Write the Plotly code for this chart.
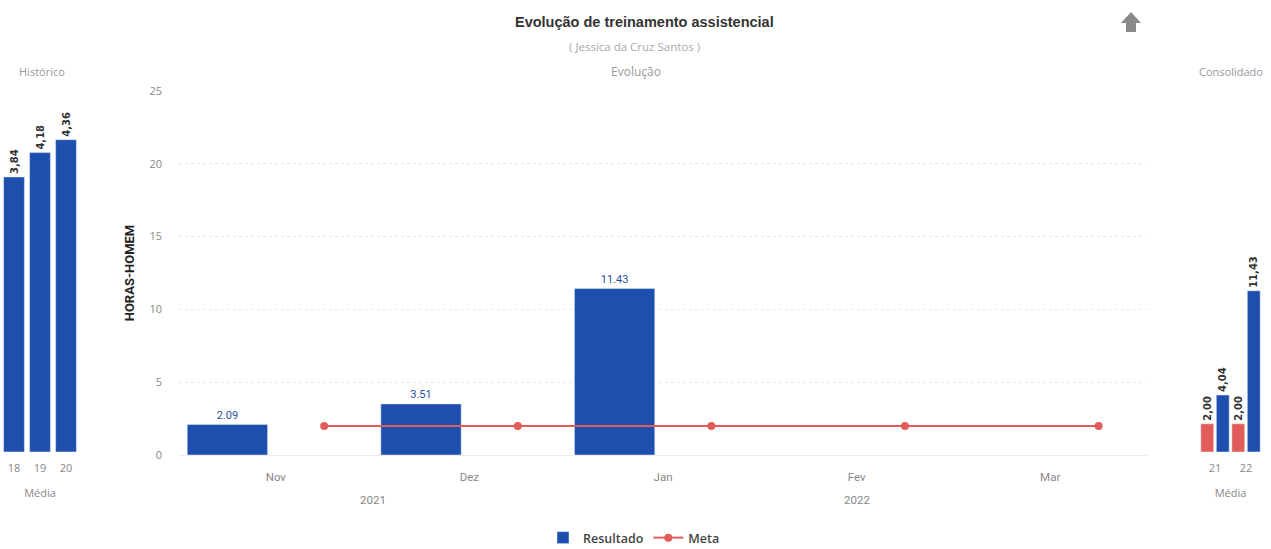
import plotly.graph_objects as go

# ---- data ----
hist_cats = ["18", "19", "20"]
hist_vals = [3.84, 4.18, 4.36]

years = ["2021", "2021", "2022", "2022", "2022"]
months = ["Nov", "Dez", "Jan", "Fev", "Mar"]
resultado = [2.09, 3.51, 11.43, None, None]
meta = [2.0, 2.0, 2.0, 2.0, 2.0]

cons_cats = ["21", "22"]
cons_meta = [2.00, 2.00]
cons_res = [4.04, 11.43]

BLUE = "#1f4fae"
RED = "#e25c5a"
FONT = "Open Sans"
W, H = 1271, 549

def br(v):
    return f"{v:.2f}".replace(".", ",")

vtext = dict(size=10, color="#333", family="DejaVu Sans", weight="bold")

fig = go.Figure()

# Histórico
fig.add_trace(go.Bar(
    x=hist_cats, y=hist_vals, xaxis="x", yaxis="y", marker_color=BLUE,
    width=0.8, text=[br(v) for v in hist_vals], textposition="outside",
    textangle=-90, textfont=vtext, constraintext="none",
    cliponaxis=False, showlegend=False, hoverinfo="skip"))

# Evolução
fig.add_trace(go.Bar(
    x=months, y=resultado, xaxis="x2", yaxis="y2", name="Resultado",
    marker_color=BLUE, offsetgroup="r", alignmentgroup="a",
    text=[f"{v:.2f}" if v is not None else "" for v in resultado],
    textposition="outside", textangle=0, constraintext="none",
    textfont=dict(size=11, color="#2b4f9a", family="Roboto"),
    cliponaxis=False))
fig.add_trace(go.Scatter(
    x=months, y=meta, xaxis="x2", yaxis="y2", name="Meta",
    mode="lines+markers", line=dict(color=RED, width=2),
    marker=dict(color=RED, size=8), offsetgroup="m", alignmentgroup="a"))

# Consolidado
fig.add_trace(go.Bar(
    x=cons_cats, y=cons_meta, xaxis="x3", yaxis="y3", marker_color=RED,
    text=[br(v) for v in cons_meta], textposition="outside", textangle=-90,
    textfont=vtext, constraintext="none",
    cliponaxis=False, showlegend=False, hoverinfo="skip"))
fig.add_trace(go.Bar(
    x=cons_cats, y=cons_res, xaxis="x3", yaxis="y3", marker_color=BLUE,
    text=[br(v) for v in cons_res], textposition="outside", textangle=-90,
    textfont=vtext, constraintext="none",
    cliponaxis=False, showlegend=False, hoverinfo="skip"))

ydom = [1 - 452 / H, 1 - 91 / H]
ydom2 = [1 - 455 / H, 1 - 91 / H]
tickf = dict(size=11, color="#888", family=FONT)
hidden = "rgba(0,0,0,0)"

fig.update_layout(
    width=W, height=H,
    margin=dict(l=0, r=0, t=0, b=0, autoexpand=False),
    paper_bgcolor="white", plot_bgcolor="white",
    font=dict(family=FONT, color="#555"),
    barmode="group", bargap=0.0, bargroupgap=0.17, scattermode="group",
    xaxis=dict(domain=[1 / W, 79 / W], anchor="y", showgrid=False, automargin=False,
               tickfont=tickf, ticks="outside", ticklen=6, tickcolor=hidden,
               title=dict(text="Média", font=dict(size=11, color="#888"), standoff=15),
               showline=False, zeroline=False),
    yaxis=dict(domain=ydom, range=[0, 5.04], visible=False, anchor="x", automargin=False),
    xaxis2=dict(domain=[179 / W, 1147 / W], anchor="y2", showgrid=False, automargin=False,
                type="category",
                tickfont=dict(size=11.5, color="#888", family="Roboto"),
                ticklabelstandoff=13),
    yaxis2=dict(domain=ydom2, range=[0, 25], anchor="x2", dtick=5, automargin=False,
                showgrid=True, gridcolor="#e8e8e8", griddash="dot", gridwidth=1,
                zeroline=True, zerolinecolor="#ececec", zerolinewidth=1,
                tickfont=tickf, ticklabelstandoff=16,
                title=dict(text="<b>HORAS-HOMEM</b>",
                           font=dict(size=13, color="#222", family="Roboto"),
                           standoff=11)),
    xaxis3=dict(domain=[1199.5 / W, 1261.5 / W], anchor="y3", showgrid=False, automargin=False,
                tickfont=tickf, ticks="outside", ticklen=6, tickcolor=hidden,
                title=dict(text="Média", font=dict(size=11, color="#888"), standoff=15)),
    yaxis3=dict(domain=ydom, range=[0, 25.6], visible=False, anchor="x3", automargin=False),
    legend=dict(orientation="h", x=634 / W, xanchor="center", y=1 - 538 / H, yanchor="middle",
                font=dict(size=12.5, color="#444", family=FONT, weight=600),
                itemwidth=30, tracegroupgap=0),
    showlegend=True,
)

# year group labels, centred under their months (positions derived from the data)
for yr in dict.fromkeys(years):
    idx = [i for i, v in enumerate(years) if v == yr]
    fig.add_annotation(text=yr, xref="x2", yref="paper", x=sum(idx) / len(idx), y=1 - 500 / H,
                       showarrow=False, xanchor="center", yanchor="middle",
                       font=dict(size=11.5, color="#888", family="Roboto"))

anns = [
    dict(text="<b>Evolução de treinamento assistencial</b>", x=644 / W, y=1 - 22 / H,
         font=dict(size=14.5, color="#333", family="Liberation Sans")),
    dict(text="( Jessica da Cruz Santos )", x=634 / W, y=1 - 47 / H, font=dict(size=11.5, color="#aaa")),
    dict(text="Evolução", x=636 / W, y=1 - 71 / H, font=dict(size=12, color="#999")),
    dict(text="Histórico", x=42 / W, y=1 - 71 / H, font=dict(size=11, color="#999")),
    dict(text="Consolidado", x=1231 / W, y=1 - 71 / H, font=dict(size=11, color="#999")),
]
for a in anns:
    fig.add_annotation(xref="paper", yref="paper", showarrow=False, xanchor="center", yanchor="middle", **a)

# up-arrow icon (decoration)
def px(x, y):
    return f"{x / W:.5f},{1 - y / H:.5f}"

arrow = ("M " + px(1131, 12) + " L " + px(1141, 23) + " L " + px(1136, 23) + " L " + px(1136, 32)
         + " L " + px(1126, 32) + " L " + px(1126, 23) + " L " + px(1121, 23) + " Z")
fig.add_shape(type="path", xref="paper", yref="paper", path=arrow,
              fillcolor="#8a8a8a", line=dict(width=0))

fig.write_html("out.html", config={"displayModeBar": False},
               post_script="document.body.style.margin='0';document.body.style.overflow='hidden';")
